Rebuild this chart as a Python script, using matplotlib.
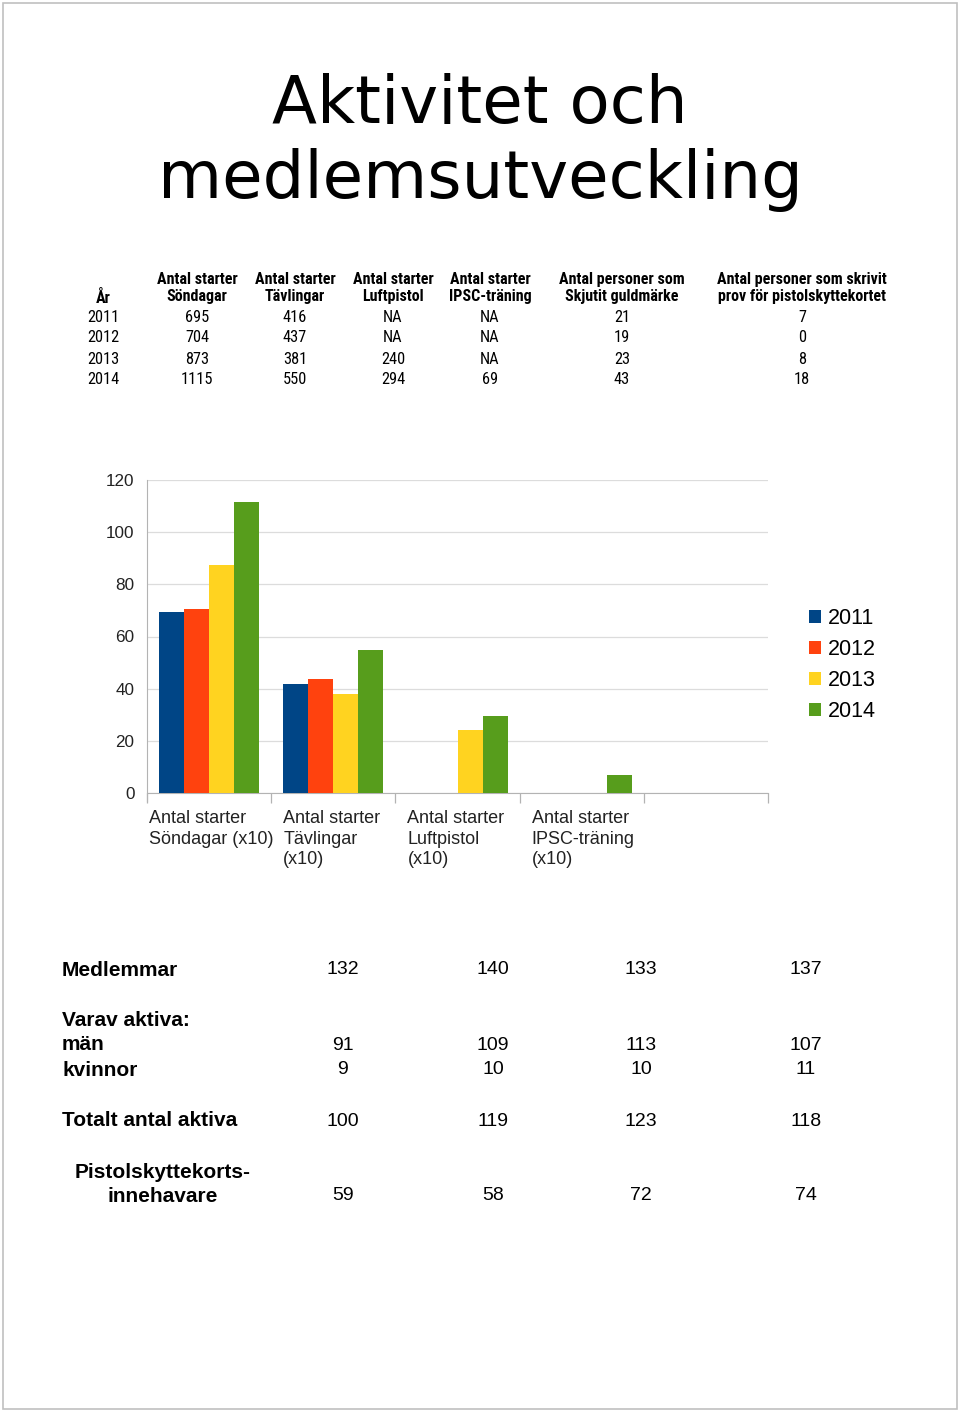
import matplotlib
matplotlib.use("Agg")
import matplotlib.pyplot as plt
from matplotlib.patches import Rectangle
import numpy as np

# Data
years = ["2011", "2012", "2013", "2014"]
categories = ["Antal starter\nSöndagar (x10)", "Antal starter\nTävlingar\n(x10)",
              "Antal starter\nLuftpistol\n(x10)", "Antal starter\nIPSC-träning\n(x10)", ""]
# values per year (divided by 10), NaN = no value
v2011 = [69.5, 41.6, np.nan, np.nan, np.nan]
v2012 = [70.4, 43.7, np.nan, np.nan, np.nan]
v2013 = [87.3, 38.1, 24.0, np.nan, np.nan]
v2014 = [111.5, 55.0, 29.4, 6.9, np.nan]
colors = ["#004586", "#ff420e", "#ffd320", "#579d1c"]

top_headers = ["År", "Antal starter\nSöndagar", "Antal starter\nTävlingar", "Antal starter\nLuftpistol",
               "Antal starter\nIPSC-träning", "Antal personer som\nSkjutit guldmärke",
               "Antal personer som skrivit\nprov för pistolskyttekortet"]
top_rows = [
    ["2011", "695", "416", "NA", "NA", "21", "7"],
    ["2012", "704", "437", "NA", "NA", "19", "0"],
    ["2013", "873", "381", "240", "NA", "23", "8"],
    ["2014", "1115", "550", "294", "69", "43", "18"],
]

medlemmar = ["132", "140", "133", "137"]
man = ["91", "109", "113", "107"]
kvinnor = ["9", "10", "10", "11"]
totalt = ["100", "119", "123", "118"]
kortinnehavare = ["59", "58", "72", "74"]

W, H = 960, 1412
fig = plt.figure(figsize=(W / 100, H / 100), dpi=100)

def fx(px):
    return px / W

def fy(py):
    return 1 - py / H

# sidram
fig.patches.append(Rectangle((fx(3), fy(1409)), fx(954), 1406 / H, transform=fig.transFigure,
                             fill=False, edgecolor="#c0c0c0", lw=1.2))

# rubrik
fig.text(0.5, fy(123), "Aktivitet och", ha="center", va="baseline", fontsize=47.3, family="DejaVu Sans")
fig.text(0.5, fy(198), "medlemsutveckling", ha="center", va="baseline", fontsize=47.3, family="DejaVu Sans")

# övre tabell
narrow = ["Roboto Condensed", "Liberation Sans"]
col_x = [103, 197, 295, 393, 490, 622, 802]
for i, h in enumerate(top_headers):
    if "\n" in h:
        fig.text(fx(col_x[i]), fy(288), h, ha="center", va="center", fontsize=11.5,
                 fontweight="bold", family=narrow, linespacing=1.22)
    else:
        fig.text(fx(col_x[i]), fy(298), h, ha="center", va="center", fontsize=11.5,
                 fontweight="bold", family=narrow)
row_y = [318, 338, 359, 379]
for r, row in enumerate(top_rows):
    for i, val in enumerate(row):
        fig.text(fx(col_x[i]), fy(row_y[r]), val, ha="center", va="center", fontsize=11.8, family=narrow)

# stapeldiagram
ax = fig.add_axes([fx(147), fy(793), fx(768) - fx(147), (793 - 480) / H])
x = np.arange(len(categories))
bw = 100 / 124 / 4
series = [v2011, v2012, v2013, v2014]
for k, (vals, c, yr) in enumerate(zip(series, colors, years)):
    ax.bar(x - 2 * bw + bw * (k + 0.5), vals, width=bw, color=c, label=yr, zorder=3)

ax.set_xlim(-0.5, len(categories) - 0.5)
ax.set_ylim(0, 120)
ax.set_yticks(np.arange(0, 121, 20))
ax.yaxis.grid(True, color="#dcdcdc", lw=0.9, zorder=0)
ax.tick_params(axis="y", length=0, pad=9, labelsize=12.3, labelcolor="#222222")
ax.set_xticks(x)
ax.set_xticklabels([""] * len(categories))
ax.tick_params(axis="x", which="major", length=0)
ax.set_xticks(np.arange(-0.5, len(categories), 1), minor=True)
ax.tick_params(axis="x", which="minor", length=7, color="#b3b3b3", width=0.9)
for s in ["top", "right"]:
    ax.spines[s].set_visible(False)
ax.spines["left"].set_color("#b3b3b3")
ax.spines["bottom"].set_color("#b3b3b3")
ax.spines["left"].set_bounds(-3, 120)
for lab in ax.get_yticklabels():
    lab.set_family("Liberation Sans")

for i, cat in enumerate(categories):
    off = 2 / 124 if i == 0 else 12 / 124
    ax.annotate(cat, xy=(i - 0.5 + off, 0), xycoords=ax.get_xaxis_transform(),
                xytext=(0, -12.5), textcoords="offset points", ha="left", va="top",
                fontsize=13, family="Liberation Sans", linespacing=1.26, color="#222222")

fig.legend(loc="center left", bbox_to_anchor=(fx(809), fy(665)), frameon=False,
           borderpad=0, borderaxespad=0, handlelength=0.56, handleheight=0.56,
           handletextpad=0.3, labelspacing=0.47,
           prop={"family": "Liberation Sans", "size": 15.5})

# nedre tabell
val_x = [343, 493, 641, 806]
lab_kw = dict(fontsize=15, fontweight="bold", family="Liberation Sans", va="center")
val_kw = dict(fontsize=14, family="Liberation Sans", va="center", ha="center")
fig.text(fx(62), fy(970), "Medlemmar", ha="left", **lab_kw)
fig.text(fx(62), fy(1020), "Varav aktiva:", ha="left", **lab_kw)
fig.text(fx(62), fy(1045), "män", ha="left", **lab_kw)
fig.text(fx(62), fy(1070), "kvinnor", ha="left", **lab_kw)
fig.text(fx(62), fy(1121), "Totalt antal aktiva", ha="left", **lab_kw)
fig.text(fx(163), fy(1172), "Pistolskyttekorts-", ha="center", **lab_kw)
fig.text(fx(163), fy(1196), "innehavare", ha="center", **lab_kw)
for row, yy in [(medlemmar, 970), (man, 1045), (kvinnor, 1070), (totalt, 1121), (kortinnehavare, 1196)]:
    for xx, v in zip(val_x, row):
        fig.text(fx(xx), fy(yy), v, **val_kw)

fig.savefig("out.png", dpi=100)
